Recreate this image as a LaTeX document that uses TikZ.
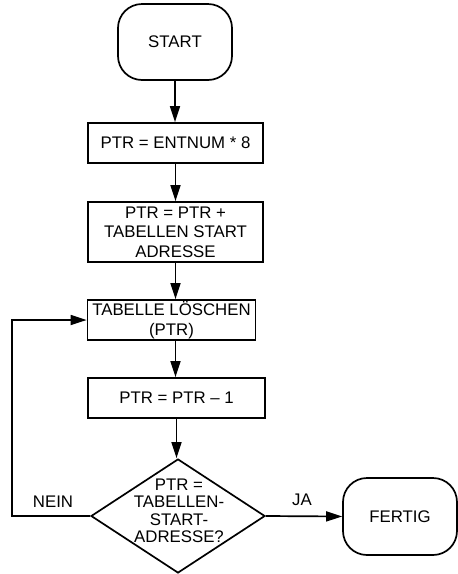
\documentclass[tikz,border=0pt]{standalone}
\usepackage{fontspec}
\setmainfont{Liberation Sans}
\usetikzlibrary{shapes.geometric,arrows.meta}
\begin{document}
\begin{tikzpicture}[x=1pt,y=-1pt,
  every node/.style={font=\fontsize{16.8}{19.5}\selectfont},
  terminal/.style={draw,rounded corners=24pt,line width=1.7pt,
    minimum width=114pt,minimum height=76pt,align=center},
  procbox/.style={draw,line width=1.7pt,minimum width=175pt,
    minimum height=40pt,inner sep=1pt,align=center},
  decision/.style={draw,diamond,line width=1.7pt,inner sep=0pt,
    minimum width=174pt,minimum height=114pt},
  flow/.style={line width=1.7pt,-{Triangle[length=16pt,width=10pt]}}]
\useasboundingbox (0,0) rectangle (458,574);

% terminals
\node[terminal] (start) at (175,42) {START};
\node[terminal,minimum height=77pt] (fertig) at (400,516.5) {FERTIG};

% processing steps
\node[procbox] (b1) at (175.5,143) {PTR = ENTNUM * 8};
\node[procbox,minimum height=60pt] (b2) at (175.5,232)
  {PTR = PTR +\\TABELLEN START\\ADRESSE};
\node[procbox,minimum width=168pt] (b3) at (171.5,320) {TABELLE LÖSCHEN\\(PTR)};
\node[procbox,minimum width=177pt] (b4) at (176.5,398) {PTR = PTR -- 1};

% end test
\node[decision] (dec) at (178,516) {};
\node[align=center,font=\fontsize{16.8}{17.5}\selectfont] (dectext) at (179,511)
  {PTR =\\TABELLEN-\\START-\\ADRESSE?};

% branch labels
\node (nein) at (53,502) {NEIN};
\node (ja) at (302,500) {JA};

% connectors
\coordinate (loopc) at (12,516);
\draw[flow] (start.south) -- (start.south |- b1.north);
\draw[flow] (b1.south) -- (b1.south |- b2.north);
\draw[flow] (b2.south) -- (b2.south |- b3.north);
\draw[flow] (b2.south |- b3.south) -- (b2.south |- b4.north);
\draw[flow] (b4.south) -- (b4.south |- dec.north);
\draw[flow] (dec.east) -- (fertig.west);
\draw[flow] (dec.west) -- (loopc) |- (b3.west);
\end{tikzpicture}
\end{document}
